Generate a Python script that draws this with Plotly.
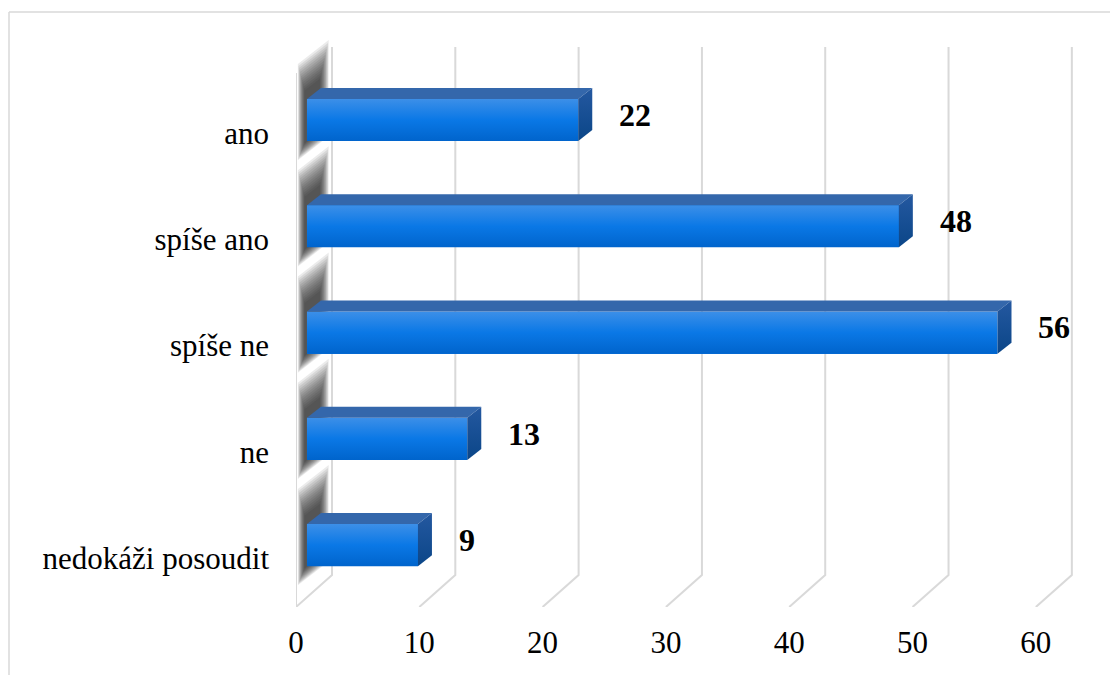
import plotly.graph_objects as go

# ---- data ----
categories = ["ano", "spíše ano", "spíše ne", "ne", "nedokáži posoudit"]
values = [22, 48, 56, 13, 9]
x_ticks = [0, 10, 20, 30, 40, 50, 60]

# ---- layout geometry ----
OFF = 8                      # default page body margin
W, H = 1118 - OFF, 675 - OFF
ML, MR, MT, MB = 296 - OFF, 39, 40 - OFF, 68
X_RANGE = [0, 63.5]
Y_RANGE = [4.46, -0.875]
PW = W - ML - MR
PH = H - MT - MB

DX, DY = 2.92, 0.263          # full depth of the 3D box
WALL_TOP_BACK, WALL_TOP_FRONT = -0.81, -0.565
BACK_BOTTOM, FRONT_BOTTOM = 4.16, 4.46
BX = 0.89                     # bar front-face x offset
FO = -0.122                   # bar face centre offset from category tick
HH = 0.198                    # half bar height
BDX, BDY = 1.135, 0.1035      # bar depth offset

GRID = "#d9d9d9"
FONT = "Liberation Serif, Times New Roman, serif"

fig = go.Figure()

# gridlines / walls (below the traces)
for t in x_ticks:
    fig.add_shape(type="path", xref="x", yref="y", layer="below",
                  path=f"M {t + DX},{WALL_TOP_BACK} L {t + DX},{BACK_BOTTOM} L {t},{FRONT_BOTTOM}",
                  line=dict(color=GRID, width=2))
fig.add_shape(type="line", xref="x", yref="y", layer="below",
              x0=0, x1=0, y0=WALL_TOP_FRONT, y1=FRONT_BOTTOM,
              line=dict(color=GRID, width=2))

# soft shadows on the left wall
slope = DY / DX
N = 14
for i, v in enumerate(values):
    yc = i + FO
    for k in range(N):
        f = k / (N - 1)           # 0 outer -> 1 inner
        xa = 0.15 + 0.55 * f
        xb = 2.65 - 0.7 * f
        top = yc - HH - 0.33 + 0.25 * f
        bot = yc + HH + 0.18 - 0.16 * f
        d = slope * (xb - xa)
        path = (f"M {xa},{top} L {xb},{top - d} L {xb},{bot - d} "
                f"L {xa},{bot} Z")
        fig.add_shape(type="path", xref="x", yref="y", layer="below",
                      path=path, fillcolor="rgba(20,20,20,0.085)",
                      line=dict(width=0))

# bar front faces
fig.add_trace(go.Bar(
    orientation="h",
    y=[i + FO for i in range(len(values))],
    x=values,
    base=[BX] * len(values),
    width=2 * HH,
    marker=dict(color="#0a74e0", line=dict(width=0)),
    showlegend=False,
))

# shading, top and side faces + value labels
for i, v in enumerate(values):
    yt = i + FO - HH
    yb = i + FO + HH
    x0 = BX
    x1 = BX + v
    fig.add_trace(go.Scatter(
        x=[x0, x1, x1, x0, x0],
        y=[yt, yt, yb, yb, yt],
        mode="lines", fill="toself",
        fillgradient=dict(type="vertical",
                          colorscale=[[0, "#0064cc"], [0.5, "#0a78e6"],
                                      [1, "#3c8fe8"]]),
        line=dict(width=0), hoverinfo="skip", showlegend=False))
    fig.add_trace(go.Scatter(
        x=[x0, x1, x1 + BDX, x0 + BDX, x0],
        y=[yt, yt, yt - BDY, yt - BDY, yt],
        mode="lines", fill="toself", fillcolor="#3467ab",
        line=dict(width=0), hoverinfo="skip", showlegend=False))
    fig.add_trace(go.Scatter(
        x=[x1, x1 + BDX, x1 + BDX, x1, x1],
        y=[yt, yt - BDY, yb - BDY, yb, yt],
        mode="lines", fill="toself",
        fillgradient=dict(type="vertical",
                          colorscale=[[0, "#0b4688"], [1, "#2458a0"]]),
        line=dict(width=0), hoverinfo="skip", showlegend=False))
    fig.add_annotation(x=x1 + BDX + 2.0, y=i + FO - 0.05, text=str(v),
                       showarrow=False, xanchor="left", yanchor="middle",
                       font=dict(family=FONT, size=32, color="black", weight="bold"))

# chart-area border (top and left visible)
def px_to_paper_x(px):
    return (px - OFF - ML) / PW

def px_to_paper_y(py):
    return (H - MB - (py - OFF)) / PH

fig.add_shape(type="line", xref="paper", yref="paper",
              x0=px_to_paper_x(9), x1=px_to_paper_x(1130),
              y0=px_to_paper_y(12), y1=px_to_paper_y(12),
              line=dict(color=GRID, width=1.5))
fig.add_shape(type="line", xref="paper", yref="paper",
              x0=px_to_paper_x(9), x1=px_to_paper_x(9),
              y0=px_to_paper_y(12), y1=px_to_paper_y(690),
              line=dict(color=GRID, width=1.5))

fig.update_layout(
    width=W, height=H,
    margin=dict(l=ML, r=MR, t=MT, b=MB, pad=0),
    paper_bgcolor="white", plot_bgcolor="white",
    bargap=0,
    xaxis=dict(range=X_RANGE, tickvals=x_ticks, showgrid=False, zeroline=False,
               showline=False, ticks="", ticklabelstandoff=14,
               tickfont=dict(family=FONT, size=31, color="black")),
    yaxis=dict(range=Y_RANGE, tickvals=list(range(len(categories))),
               ticktext=categories, showgrid=False, zeroline=False,
               showline=False, ticks="", ticklabelstandoff=26,
               tickfont=dict(family=FONT, size=31, color="black")),
)

fig.write_html("out.html")
